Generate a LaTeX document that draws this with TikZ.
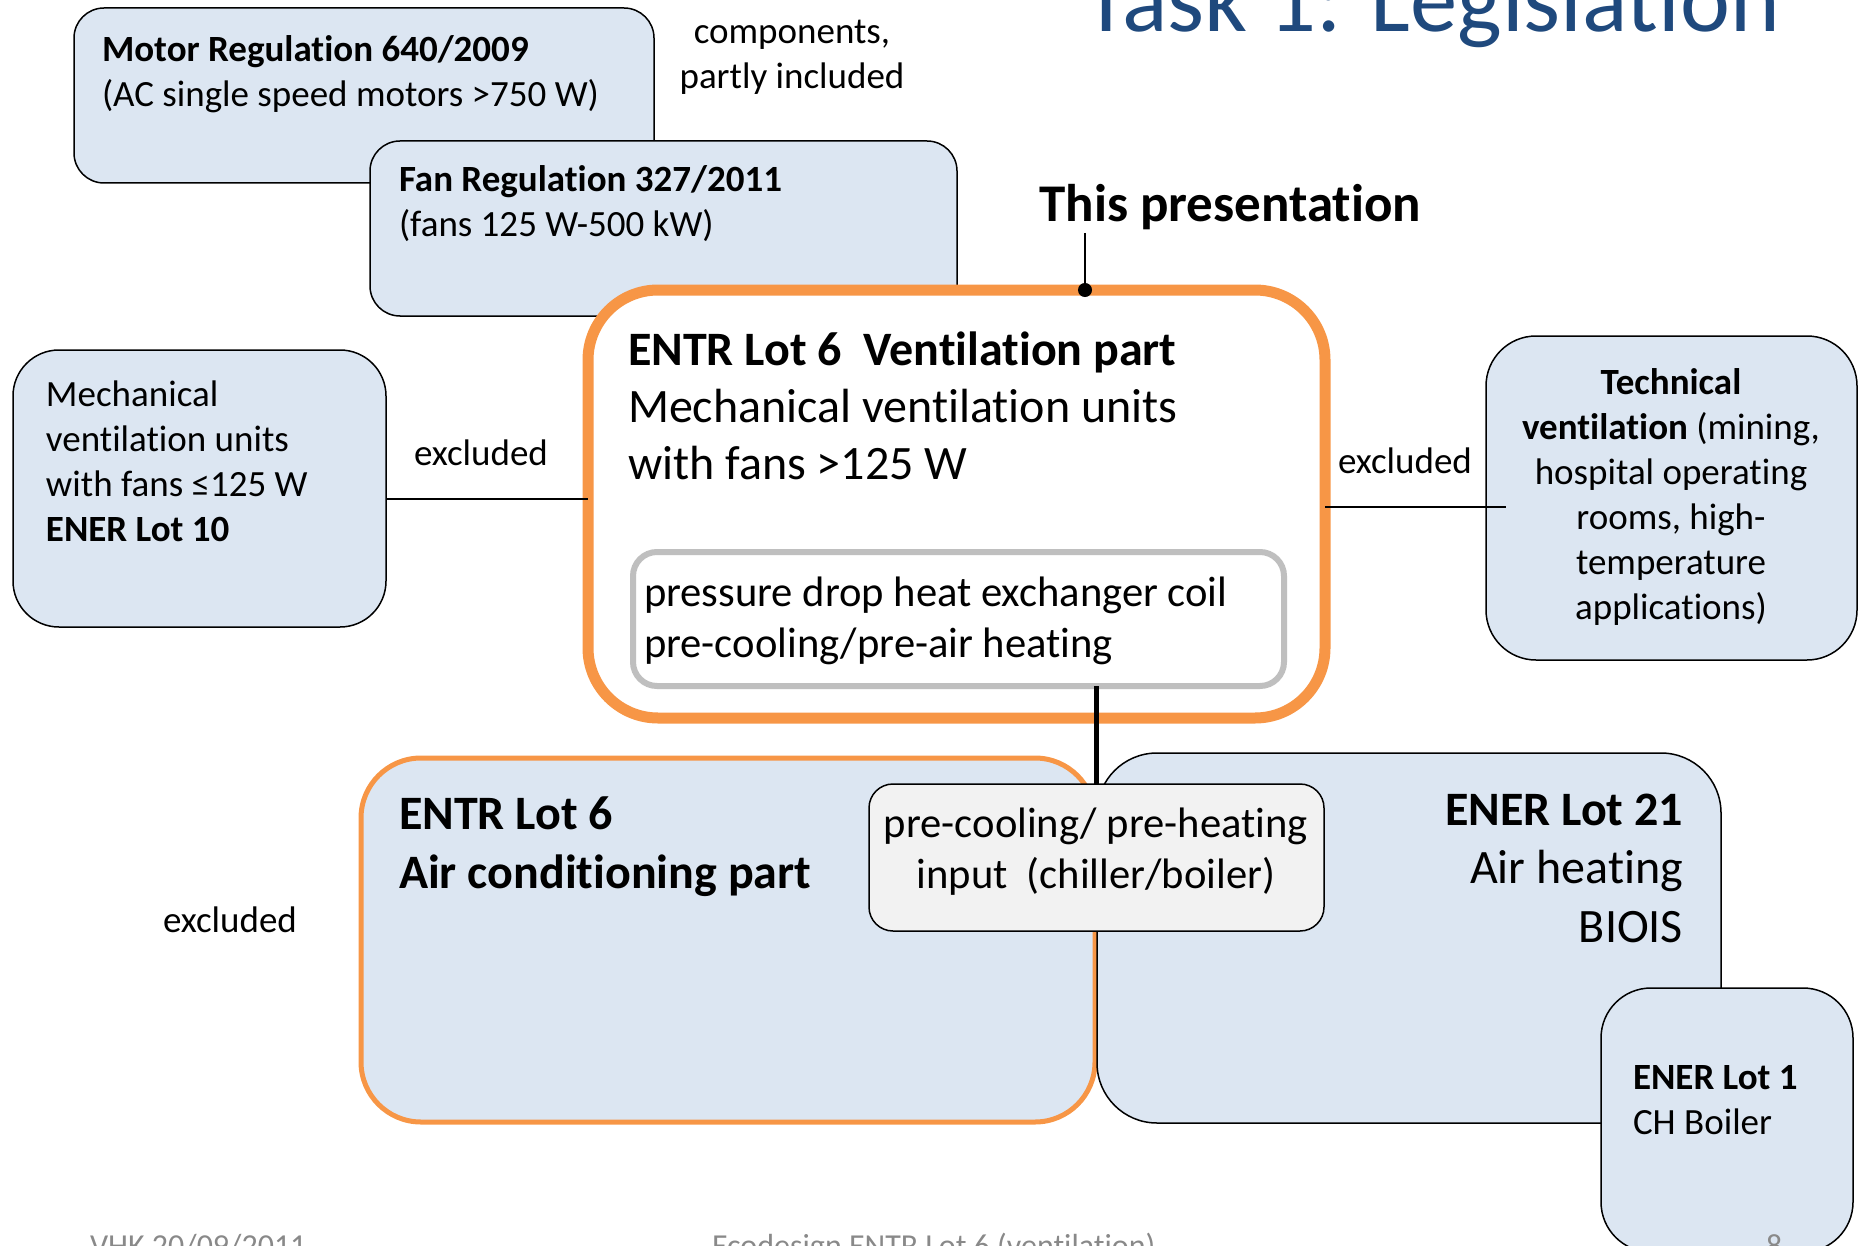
\documentclass[tikz,border=0pt]{standalone}
\usepackage{fontspec}
\setmainfont[Ligatures=NoCommon]{Carlito}
\usetikzlibrary{arrows.meta}
\definecolor{boxblue}{HTML}{DCE6F2}
\definecolor{orng}{HTML}{F79646}
\definecolor{grayline}{HTML}{BFBFBF}
\definecolor{grayfill}{HTML}{F2F2F2}
\definecolor{titleblue}{HTML}{1F497D}
\definecolor{footgray}{HTML}{898989}
\begin{document}
\begin{tikzpicture}[x=0.5pt,y=-0.5pt,
  bx/.style={draw=black, line width=0.75pt, fill=boxblue, rectangle, inner sep=0pt, outer sep=0pt, anchor=north west},
  t18/.style={inner sep=0pt, outer sep=0pt, font=\fontsize{18.5}{22.5}\selectfont},
  t21/.style={inner sep=0pt, outer sep=0pt, font=\fontsize{21.3}{25.5}\selectfont},
  t23/.style={inner sep=0pt, outer sep=0pt, font=\fontsize{24}{28.5}\selectfont},
  t24/.style={inner sep=0pt, outer sep=0pt, font=\fontsize{24}{29.2}\selectfont},
  foot/.style={inner sep=0pt, outer sep=0pt, text=footgray, font=\fontsize{16}{19}\selectfont, anchor=base west},
  thinline/.style={draw=black, line width=0.8pt}]
\useasboundingbox (0,0) rectangle (1862,1246);
\clip (0,0) rectangle (1862,1246);

% title (cut off at top)
\node[inner sep=0pt, anchor=base west, text=titleblue, font=\fontsize{47.3}{56}\selectfont] (title) at (1083,32) {Task 1: Legislation};

% top boxes
\node[bx, rounded corners=15pt, minimum width=290pt, minimum height=87.5pt] (motor) at (74,8) {};
\node[t18, anchor=base west, align=left] (motort) at (102,107) {\textbf{Motor Regulation 640/2009}\\(AC single speed motors >750 W)};
\node[t18, anchor=base, align=center] (comp) at (792,89) {components,\\partly included};

\node[bx, rounded corners=15pt, minimum width=293.5pt, minimum height=87.5pt] (fan) at (370,141) {};
\node[t18, anchor=base west, align=left] (fant) at (399,237) {\textbf{Fan Regulation 327/2011}\\(fans 125 W-500 kW)};

% this presentation
\node[inner sep=0pt, anchor=base west, font=\fontsize{26.5}{31}\selectfont\bfseries] (tp) at (1039,221) {This presentation};

% main orange box
\node[draw=orng, line width=5.5pt, fill=white, rectangle, rounded corners=35pt, inner sep=0pt, outer sep=0pt, anchor=north west, minimum width=368.5pt, minimum height=214pt] (main) at (588,290) {};
\node[t23, anchor=base west, align=left] (maint) at (628,479) {\textbf{ENTR Lot 6\ \ Ventilation part}\\Mechanical ventilation units\\with fans >125 W};
\node[draw=grayline, line width=3pt, fill=white, rectangle, rounded corners=12pt, inner sep=0pt, outer sep=0pt, anchor=north west, minimum width=325.5pt, minimum height=67pt] (gray) at (633,552) {};
\node[t21, anchor=base west, align=left] (grayt) at (644,657) {pressure drop heat exchanger coil\\pre-cooling/pre-air heating};

\coordinate (tpfoot) at (1085,233);
\draw[line width=0.8pt, -{Circle[length=7pt]}] (tpfoot) -- ([yshift=-3.5pt]tpfoot |- main.north);

% left box
\node[bx, rounded corners=23pt, minimum width=186.5pt, minimum height=138.5pt] (mvu) at (13,350) {};
\node[t18, anchor=base west, align=left] (mvut) at (46,541) {Mechanical\\ventilation units\\with fans ≤125 W\\\textbf{ENER Lot 10}};
\node[t18, anchor=base west] (exl) at (414,465) {excluded};
\draw[thinline] ([yshift=-5.25pt]mvu.east) -- ([yshift=-5.25pt]mvu.east -| main.west);

% right box
\node[bx, rounded corners=25pt, minimum width=185.5pt, minimum height=162pt] (tech) at (1486,336) {};
\node[t18, anchor=base, align=center] (techt) at (1671,619) {\textbf{Technical}\\\textbf{ventilation} (mining,\\hospital operating\\rooms, high-\\temperature\\applications)};
\node[t18, anchor=base west] (exr) at (1338,473) {excluded};
\draw[thinline] ([yshift=-1.5pt]main.east) -- ([yshift=-1.5pt, xshift=10pt]main.east -| tech.west);

% bottom
\node[draw=orng, line width=2.5pt, fill=boxblue, rectangle, rounded corners=30pt, inner sep=0pt, outer sep=0pt, anchor=north west, minimum width=367pt, minimum height=182pt] (ac) at (361,758) {};
\node[t24, anchor=base west, align=left, font=\fontsize{24}{29.2}\selectfont\bfseries] (act) at (399,888) {ENTR Lot 6\\Air conditioning part};

\node[bx, rounded corners=30pt, minimum width=312pt, minimum height=185pt] (lot21) at (1097,753) {};
\node[t24, anchor=base east, align=right] (lot21t) at (1683,942) {\textbf{ENER Lot 21}\\Air heating\\BIOIS};

\node[draw=black, line width=0.75pt, fill=grayfill, rectangle, rounded corners=12pt, inner sep=0pt, outer sep=0pt, anchor=north west, minimum width=227.5pt, minimum height=73.5pt] (pre) at (869,784) {};
\node[t21, anchor=base, align=center] (pret) at (1096,888) {pre-cooling/ pre-heating\\input\ \ (chiller/boiler)};

\draw[line width=2.5pt] (gray.south -| pre.north) -- (pre.north);

\node[t18, anchor=base west] (exb) at (163,932) {excluded};

\node[bx, rounded corners=25pt, minimum width=126pt, minimum height=132pt] (lot1) at (1601,988) {};
\node[t18, anchor=base west, align=left] (lot1t) at (1633,1134) {\textbf{ENER Lot 1}\\CH Boiler};

% footer (cut off at bottom)
\node[foot] (date) at (90,1256) {VHK 20/09/2011};
\node[foot] (eco) at (712,1256) {Ecodesign ENTR Lot 6 (ventilation)};
\node[foot] (pg) at (1766,1256) {8};
\end{tikzpicture}
\end{document}
